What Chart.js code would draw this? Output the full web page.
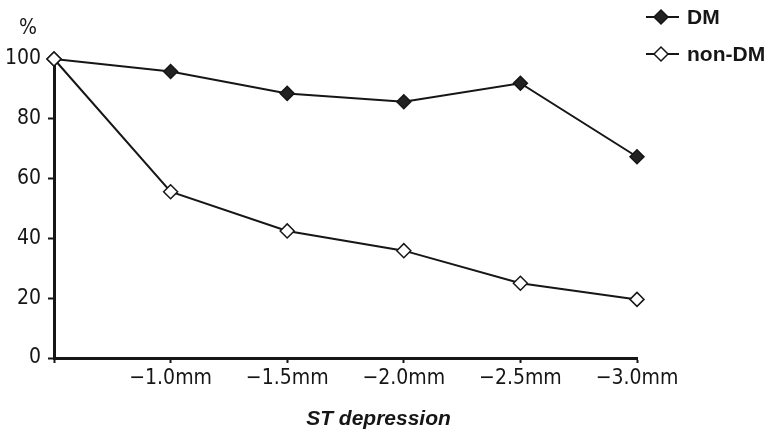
<!DOCTYPE html>
<html>
<head>
<meta charset="utf-8">
<title>ST depression</title>
<script src="https://cdn.jsdelivr.net/npm/chart.js@4.4.1/dist/chart.umd.min.js"></script>
<style>
  html, body { margin: 0; padding: 0; background: #fff; }
  #wrap { position: relative; width: 776px; height: 433px; }
</style>
</head>
<body>
<div id="wrap"><canvas id="chart"></canvas></div>
<script>
(function () {
  'use strict';

  // data
  const categories = ['', '\u22121.0mm', '\u22121.5mm', '\u22122.0mm', '\u22122.5mm', '\u22123.0mm'];
  const dmValues = [100, 95.8, 88.5, 85.7, 91.9, 67.3];
  const nonDmValues = [100, 55.6, 42.5, 35.9, 25.0, 19.6];
  const yTicks = [0, 20, 40, 60, 80, 100];

  const ink = '#161616';
  const narrow = "'Liberation Sans Narrow', 'DejaVu Sans Condensed', 'Arial Narrow', sans-serif";
  const sans = "'Liberation Sans', Arial, Helvetica, sans-serif";

  // legend, unit label and axis title drawn next to the plot
  const sideText = {
    id: 'sideText',
    afterDraw(chart) {
      const ctx = chart.ctx;
      const area = chart.chartArea;
      ctx.save();

      ctx.fillStyle = ink;
      ctx.font = '21px ' + narrow;
      ctx.textAlign = 'center';
      ctx.textBaseline = 'middle';
      ctx.fillText('%', 28, 29);

      ctx.font = 'italic bold 21px ' + sans;
      ctx.textBaseline = 'alphabetic';
      ctx.fillText('ST depression', area.left + (area.right - area.left) / 2 + 33, 425);

      const rows = [17, 54];
      chart.data.datasets.forEach((ds, i) => {
        const y = rows[i];
        ctx.strokeStyle = ink;
        ctx.lineWidth = 2;
        ctx.beginPath();
        ctx.moveTo(area.right + 9, y);
        ctx.lineTo(area.right + 42, y);
        ctx.stroke();

        ctx.fillStyle = ds.pointBackgroundColor;
        ctx.strokeStyle = ds.pointBorderColor;
        ctx.lineWidth = ds.pointBorderWidth;
        Chart.helpers.drawPoint(ctx, {
          pointStyle: 'rectRot',
          rotation: 0,
          radius: 7,
          borderWidth: ds.pointBorderWidth,
        }, area.right + 24, y);

        ctx.fillStyle = ink;
        ctx.font = 'bold 21px ' + sans;
        ctx.textAlign = 'left';
        ctx.textBaseline = 'middle';
        ctx.fillText(ds.label, area.right + 50, y + 1);
      });

      ctx.restore();
    },
  };

  new Chart(document.getElementById('chart'), {
    type: 'line',
    data: {
      labels: categories,
      datasets: [
        {
          label: 'DM',
          data: dmValues,
          borderColor: ink,
          borderWidth: 2,
          pointStyle: 'rectRot',
          pointRadius: 7,
          pointBackgroundColor: '#222',
          pointBorderColor: ink,
          pointBorderWidth: 1.5,
          tension: 0,
          clip: false,
          order: 2,
        },
        {
          label: 'non-DM',
          data: nonDmValues,
          borderColor: ink,
          borderWidth: 2,
          pointStyle: 'rectRot',
          pointRadius: 7,
          pointBackgroundColor: '#fff',
          pointBorderColor: ink,
          pointBorderWidth: 1.5,
          tension: 0,
          clip: false,
          order: 1,
        },
      ],
    },
    options: {
      responsive: true,
      maintainAspectRatio: false,
      animation: false,
      layout: { padding: { top: 59, right: 139, left: 0, bottom: 0 } },
      plugins: {
        legend: { display: false },
        tooltip: { enabled: false },
      },
      scales: {
        x: {
          offset: false,
          border: { color: ink, width: 3 },
          grid: { drawOnChartArea: false, tickLength: 5, tickColor: ink, tickWidth: 2 },
          ticks: { color: ink, font: { family: narrow, size: 21 }, padding: 3, maxRotation: 0, autoSkip: false },
          afterFit(scale) { scale.height = 75; },
        },
        y: {
          min: 0,
          max: 100,
          afterBuildTicks(scale) { scale.ticks = yTicks.map((v) => ({ value: v })); },
          border: { color: ink, width: 3 },
          grid: { drawOnChartArea: false, tickLength: 6, tickColor: ink, tickWidth: 2 },
          ticks: { color: ink, font: { family: narrow, size: 21 }, padding: 7 },
          afterFit(scale) { scale.width = 54; },
        },
      },
    },
    plugins: [sideText],
  });
})();
</script>
</body>
</html>
